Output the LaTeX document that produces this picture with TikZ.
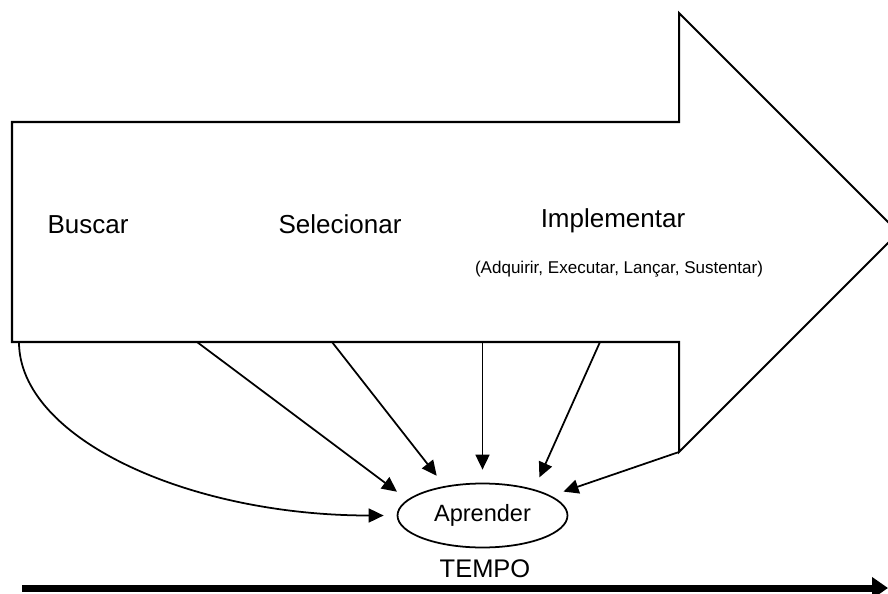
\documentclass[tikz,border=0pt]{standalone}
\usepackage{fontspec}
\setmainfont{Liberation Sans}
\usetikzlibrary{positioning,arrows.meta,shapes.geometric}

\begin{document}
\begin{tikzpicture}[
	x=0.02cm,
	y=-0.02cm,
	>={Triangle[length=0.3cm,width=0.28cm]},
	phase/.style={
		anchor=base,
		inner sep=0pt,
		font=\fontsize{14.8}{17}\selectfont
	},
	flow/.style={
		->,
		line width=1pt,
		shorten >=0.26cm
	}
	]
	
	\useasboundingbox (0,0) rectangle (888,594);
	
	%--------------------------------------------------
	% Big arrow
	%--------------------------------------------------
	
	\draw[line width=1.15pt]
	(12,122) -- (679,122) -- (679,13) -- (898.5,232.5)
	-- (679,452) coordinate (corner) -- (679,342) -- (12,342) -- cycle;
	
	\coordinate (b1) at (19,342);
	\coordinate (b2) at (197,342);
	\coordinate (b3) at (332,342);
	\coordinate (b4) at (482.5,342);
	\coordinate (b5) at (600,342);
	
	%--------------------------------------------------
	% Phases
	%--------------------------------------------------
	
	\node[phase] (search) at (88,234) {Buscar};
	
	\node[phase] (select) at (340,234) {Selecionar};
	
	\node[phase] (implement) at (613,228) {Implementar};
	
	\node[phase,font=\fontsize{9.7}{12}\selectfont] (detail) at (619,274)
	{(Adquirir, Executar, Lançar, Sustentar)};
	
	%--------------------------------------------------
	% Learning
	%--------------------------------------------------
	
	\node[draw,ellipse,line width=1pt,inner sep=0pt,
	minimum width=3.4cm,minimum height=1.28cm,
	font=\fontsize{13.4}{16}\selectfont] (learn) at (482.5,515.5) {Aprender};
	
	\draw[flow] (b1) .. controls +(0,96) and +(-209,0) .. (learn.west);
	
	\draw[flow] (b2) -- (learn.168);
	
	\draw[flow] (b3) -- (learn.142);
	
	\draw[flow] (b4) -- (learn.90);
	
	\draw[flow] (b5) -- (learn.27);
	
	\draw[flow] (corner) -- (learn.16);
	
	%--------------------------------------------------
	% Time
	%--------------------------------------------------
	
	\node[phase,font=\fontsize{14.5}{17}\selectfont] (time) at (485,577) {TEMPO};
	
	\coordinate (t0) at (22,588);
	\coordinate (t1) at (888,588);
	
	\draw[line width=0.14cm,-{Triangle[length=0.32cm,width=0.42cm]}] (t0) -- (t1);
	
\end{tikzpicture}
\end{document}
